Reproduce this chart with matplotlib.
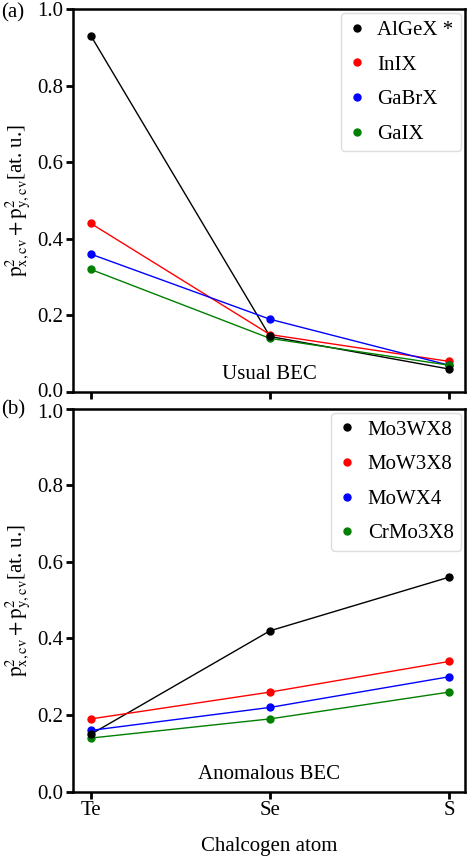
import numpy as np
import matplotlib
matplotlib.use('Agg')
from matplotlib import pyplot as plt
from matplotlib import transforms

plt.rcParams['font.family'] = ['Liberation Serif', 'DejaVu Serif']
plt.rcParams['mathtext.fontset'] = 'stix'

atoms = ['Te', 'Se', 'S']
colors = ['black', 'red', 'blue', 'green']

# (a) usual BEC
usual_names = ['AlGeX *', 'InIX', 'GaBrX', 'GaIX']
alge = [0.93, 0.145, 0.06]
inix = [0.44, 0.15, 0.08]
gabr = [0.36, 0.19, 0.07]
gaix = [0.32, 0.14, 0.07]

# (b) anomalous BEC
anom_names = ['Mo3WX8', 'MoW3X8', 'MoWX4', 'CrMo3X8']
mo3w = [0.15, 0.42, 0.56]
mow3 = [0.19, 0.26, 0.34]
mowx4 = [0.16, 0.22, 0.30]
crmo3 = [0.14, 0.19, 0.26]

fig = plt.figure(figsize=(4.68, 8.58), dpi=100)
ax1 = fig.add_axes([0.156, 0.5431, 0.838, 0.4464])
ax2 = fig.add_axes([0.156, 0.0773, 0.838, 0.4464])

x = np.arange(len(atoms))
ylab = r'$\mathrm{p}^2_{\mathrm{x,cv}}+\mathrm{p}^2_{\mathrm{y,cv}}$[at. u.]'


def draw(ax, series, names, note):
    for y, c, n in zip(series, colors, names):
        z = 4 if c == 'black' else 3
        ax.plot(x, y, color=c, lw=1.0, zorder=2)
        ax.plot(x, y, 'o', color=c, ms=5, label=n, zorder=z)
    ax.set_xlim(-0.1, 2.09)
    ax.set_ylim(0, 1.0)
    ax.set_yticks([0.0, 0.2, 0.4, 0.6, 0.8, 1.0])
    ax.set_xticks(x)
    ax.tick_params(labelsize=15, width=2, length=5, direction='out', pad=2)
    for s in ax.spines.values():
        s.set_linewidth(1.8)
    ax.set_ylabel(ylab, fontsize=15, labelpad=3)
    ax.text(0.5, 0.045, note, transform=ax.transAxes, ha='center',
            va='center', fontsize=15)
    ax.legend(loc='upper right', fontsize=15, handlelength=0.8,
              handletextpad=0.6, labelspacing=0.72, borderaxespad=0.2,
              framealpha=1, edgecolor='#dddddd', borderpad=0.35)


draw(ax1, [alge, inix, gabr, gaix], usual_names, 'Usual BEC')
ax1.set_xticklabels([])
draw(ax2, [mo3w, mow3, mowx4, crmo3], anom_names, 'Anomalous BEC')
ax2.set_xticklabels(atoms)
ax2.set_xlabel('Chalcogen atom', fontsize=15, labelpad=12)

# nudge the two labels that meet between the panels
fig.canvas.draw()
up = transforms.ScaledTranslation(0, 2 / 100, fig.dpi_scale_trans)
down = transforms.ScaledTranslation(0, -2 / 100, fig.dpi_scale_trans)
lab = ax1.get_yticklabels()[0]
lab.set_transform(lab.get_transform() + up)
lab = ax2.get_yticklabels()[-1]
lab.set_transform(lab.get_transform() + down)

fig.text(0.003, 0.985, '(a)', fontsize=15, va='center')
fig.text(0.003, 0.522, '(b)', fontsize=15, va='center')

fig.savefig('out.png', dpi=100)
